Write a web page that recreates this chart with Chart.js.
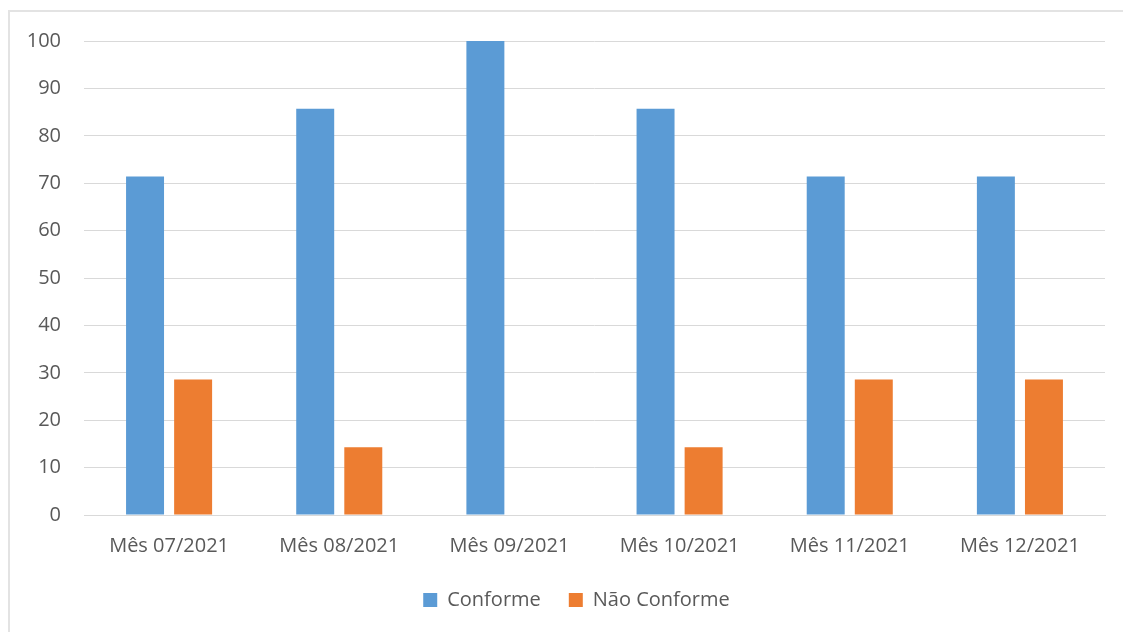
<!DOCTYPE html>
<html><head><meta charset="utf-8">
<script src="https://cdn.jsdelivr.net/npm/chart.js@4"></script>
<style>
html,body{margin:0;padding:0;background:#fff;}
#wrap{position:absolute;left:0;top:0;width:1123px;height:632px;overflow:hidden;}
#frame{position:absolute;left:8px;top:10px;width:1130px;height:640px;border:2px solid #e3e3e3;box-sizing:border-box;}
canvas{position:absolute;left:0;top:0;}
</style></head>
<body>
<div id="wrap"><div id="frame"></div><canvas id="c" width="1123" height="632"></canvas></div>
<script>
const categories = ["Mês 07/2021","Mês 08/2021","Mês 09/2021","Mês 10/2021","Mês 11/2021","Mês 12/2021"];
const conforme = [71.4, 85.7, 100, 85.7, 71.4, 71.4];
const naoConforme = [28.6, 14.3, 0, 14.3, 28.6, 28.6];
const yTicks = [0,10,20,30,40,50,60,70,80,90,100];

const font = {family: "'Open Sans', 'Liberation Sans', sans-serif", size: 20};
const shiftLegend = {
  id: 'shiftLegend',
  afterLayout(chart) {
    if (chart.legend) { chart.legend.left += 24; chart.legend.right += 24; }
  }
};
new Chart(document.getElementById('c'), {
  type: 'bar',
  data: {
    labels: categories,
    datasets: [
      {label: 'Conforme', data: conforme, backgroundColor: '#5B9BD5', categoryPercentage: 0.565, barPercentage: 0.79},
      {label: 'Não Conforme', data: naoConforme, backgroundColor: '#ED7D31', categoryPercentage: 0.565, barPercentage: 0.79}
    ]
  },
  plugins: [shiftLegend],
  options: {
    responsive: false,
    animation: false,
    layout: {padding: {left: 0, right: 18, top: 41, bottom: 12}},
    plugins: {
      legend: {
        position: 'bottom',
        labels: {color: '#595959', font: font, boxWidth: 14, boxHeight: 14, padding: 28},
      },
      tooltip: {enabled: false}
    },
    scales: {
      x: {
        grid: {display: false, drawTicks: false},
        border: {display: true, color: '#d9d9d9', width: 1},
        ticks: {color: '#595959', font: font, padding: 19, maxRotation: 0},
        afterFit: s => { s.height = 47; }
      },
      y: {
        min: 0, max: 100,
        afterBuildTicks: s => { s.ticks = yTicks.map(v => ({value: v})); },
        grid: {color: '#d9d9d9', lineWidth: 1, drawTicks: false},
        border: {display: false},
        ticks: {color: '#595959', font: font, padding: 23},
        afterFit: s => { s.width = 84; }
      }
    }
  }
});
</script>
</body></html>
